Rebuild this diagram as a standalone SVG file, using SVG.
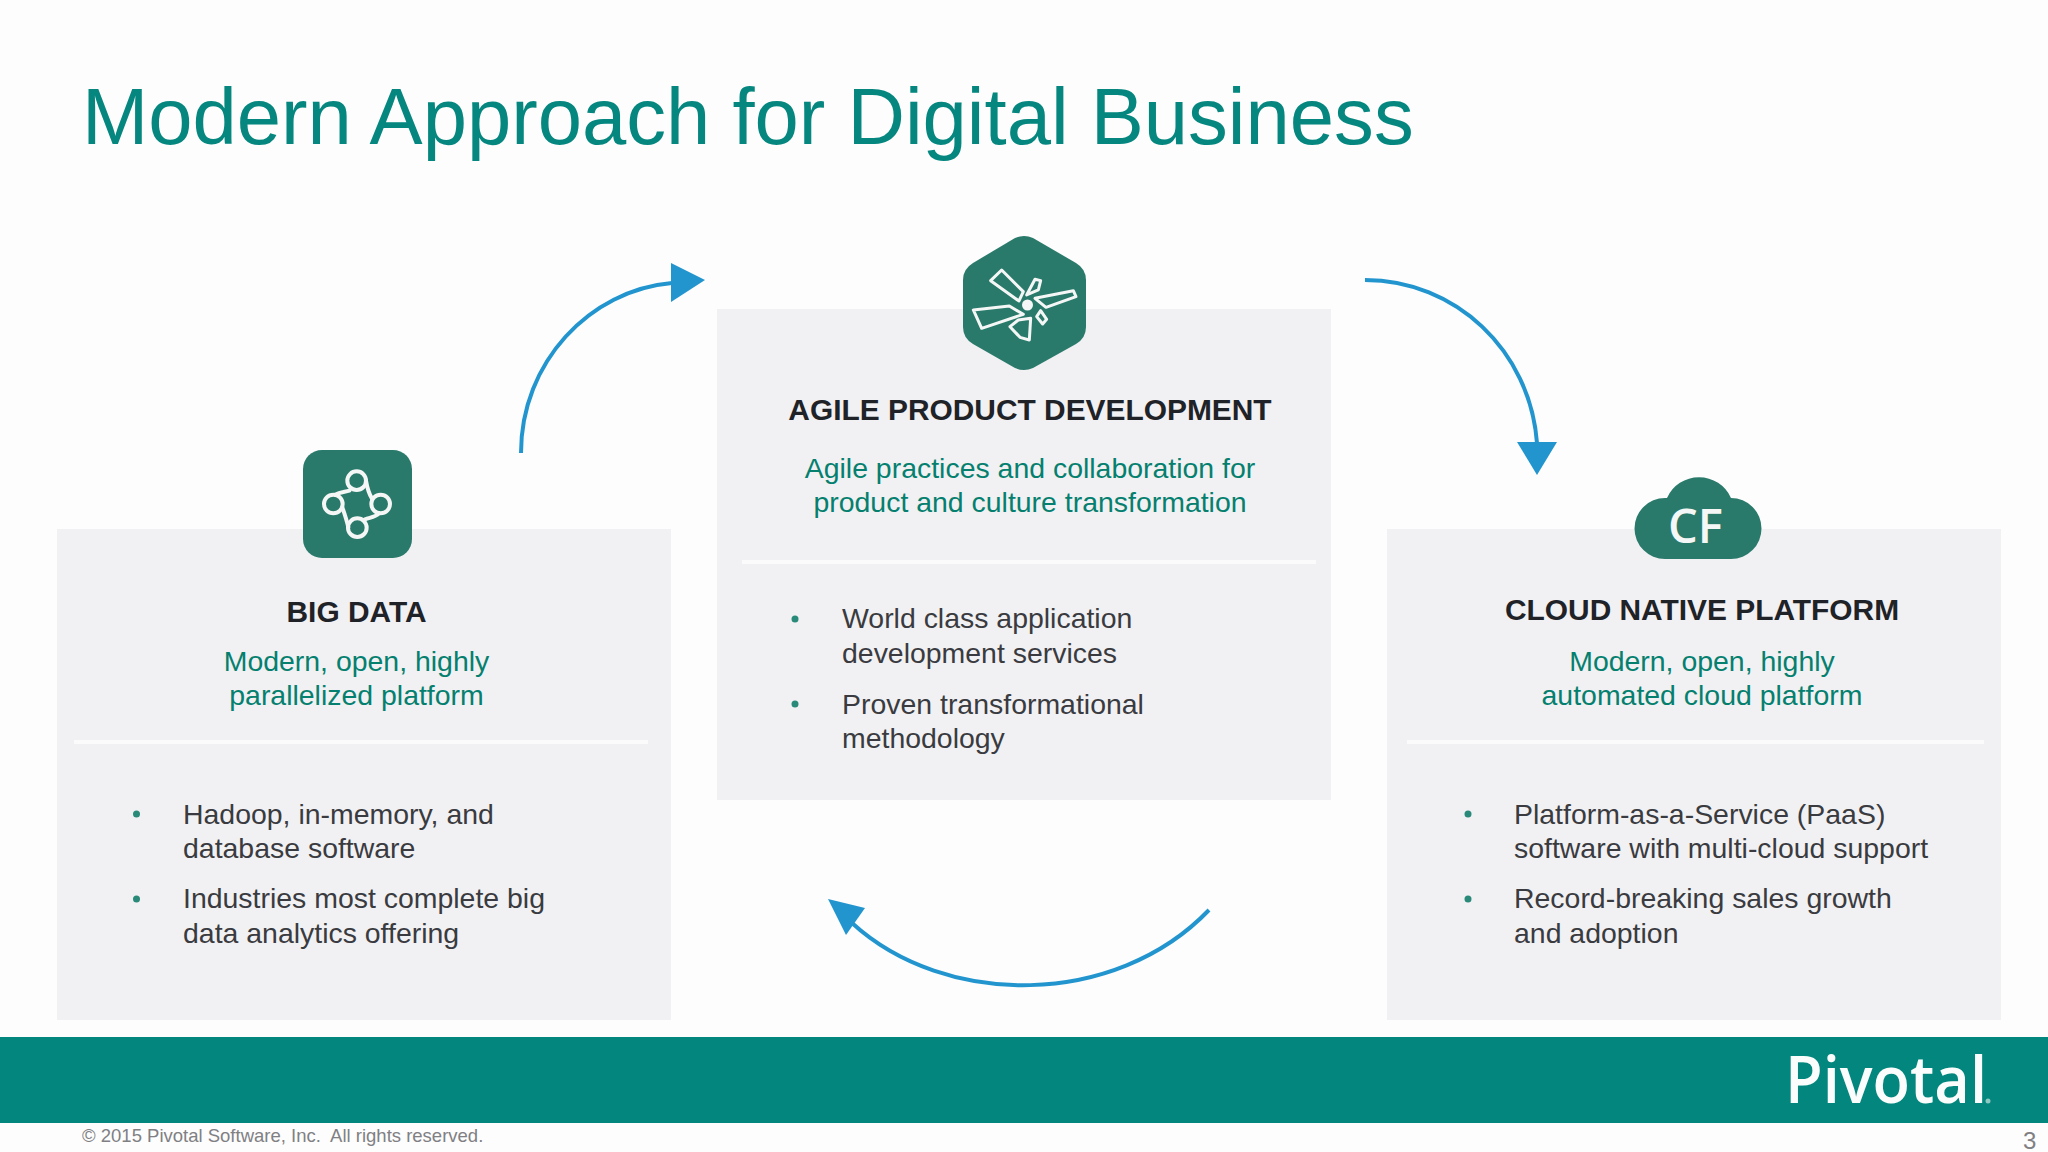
<svg xmlns="http://www.w3.org/2000/svg" width="2048" height="1152" viewBox="0 0 2048 1152">
<defs>
<marker id="ah-right" markerUnits="userSpaceOnUse" markerWidth="40" markerHeight="44" refX="1" refY="22" orient="0"><path d="M0,2 L34,19 L0,41 Z" fill="#2295cf"/></marker>
<marker id="ah-down" markerUnits="userSpaceOnUse" markerWidth="44" markerHeight="40" refX="22" refY="1" orient="0"><path d="M2,0 L42,0 L22,33 Z" fill="#2295cf"/></marker>
<marker id="ah-back" markerUnits="userSpaceOnUse" markerWidth="44" markerHeight="44" refX="26" refY="24" orient="0"><path d="M2,0 L39,9 L20,36 Z" fill="#2295cf"/></marker>
</defs>
<style>
text{font-family:"Liberation Sans",Arial,sans-serif}
.panel{fill:#f1f1f3}
.div{stroke:#fbfbfb;stroke-width:4}
.h{font-size:29.900px;font-weight:700;fill:#1f2328;text-anchor:middle}
.s{font-size:28.450px;fill:#05806f;text-anchor:middle}
.b{font-size:28.450px;fill:#3a3b40}
.dot{fill:#2a8a79}
.ico{fill:#2a7a6b}
.conn{fill:none;stroke:#2295cf;stroke-width:4}
.ln{fill:none;stroke:#f4f7f6;stroke-linejoin:round;stroke-linecap:round}
</style>
<rect width="2048" height="1152" fill="#fdfdfd"/>
<text x="82" y="144" font-size="79.600" fill="#05877f">Modern Approach for Digital Business</text>

<g id="node-big-data">
<rect class="panel" x="57" y="529" width="614" height="491"/>
<rect class="ico" x="303" y="450" width="109" height="108" rx="19"/>
<g class="ln" stroke-width="12" transform="translate(280 430) scale(.3333)">
<circle cx="230" cy="152" r="28"/><circle cx="160" cy="222" r="28"/><circle cx="302" cy="222" r="28"/><circle cx="232" cy="293" r="28"/>
<path d="M165,194 C180,186 195,186 208,182 M258,152 C262,175 266,190 276,206 M297,250 C285,262 270,262 255,268 M205,292 C200,270 195,255 187,232"/>
</g>
<line class="div" x1="74" y1="742" x2="648" y2="742"/>
<text class="h" x="356.500" y="622">BIG DATA</text>
<text class="s" x="356.500" y="671">Modern, open, highly</text>
<text class="s" x="356.500" y="705">parallelized platform</text>
<circle class="dot" cx="136.500" cy="814" r="3.500"/><circle class="dot" cx="136.500" cy="899" r="3.500"/>
<text class="b" x="183" y="824">Hadoop, in-memory, and</text>
<text class="b" x="183" y="858">database software</text>
<text class="b" x="183" y="908">Industries most complete big</text>
<text class="b" x="183" y="943">data analytics offering</text>
</g>

<g id="node-agile">
<rect class="panel" x="717" y="309" width="614" height="491"/>
<path class="ico" d="M1015,238 Q1024,234 1033,238 L1076,263 Q1086,269 1086,280 L1086,327 Q1086,338 1076,344 L1033,368 Q1024,372 1015,368 L973,344 Q963,338 963,327 L963,280 Q963,269 973,263 Z"/>
<g class="ln" stroke-width="9" transform="translate(920 220) scale(.3333)">
<path d="M212,182 L245,150 L310,215 L297,243 Z"/>
<path d="M320,225 L345,178 L362,182 L355,210 Z"/>
<path d="M345,235 L460,212 L468,230 L378,262 Z"/>
<path d="M160,270 L268,258 L310,283 L185,325 Z"/>
<path d="M270,320 L295,300 L332,295 L328,360 L300,352 Z"/>
<path d="M350,290 L362,272 L380,298 L368,312 Z"/>
</g>
<circle cx="1027.500" cy="305" r="5.500" fill="#f4f7f6"/>
<line class="div" x1="742" y1="562" x2="1316" y2="562"/>
<text class="h" x="1030" y="420">AGILE PRODUCT DEVELOPMENT</text>
<text class="s" x="1030" y="478">Agile practices and collaboration for</text>
<text class="s" x="1030" y="512">product and culture transformation</text>
<circle class="dot" cx="795" cy="619" r="3.500"/><circle class="dot" cx="795" cy="704" r="3.500"/>
<text class="b" x="842" y="628">World class application</text>
<text class="b" x="842" y="663">development services</text>
<text class="b" x="842" y="714">Proven transformational</text>
<text class="b" x="842" y="748">methodology</text>
</g>

<g id="node-cloud">
<rect class="panel" x="1387" y="529" width="614" height="491"/>
<path class="ico" d="M1665,559 A30,30 0 0 1 1665,498 L1667,498 A35,35 0 0 1 1731,498 A30,30 0 0 1 1731,559 Z"/>
<text x="1668" y="543" font-size="47" font-weight="600" fill="#f4f7f6" style="font-family:'Open Sans',sans-serif">CF</text>
<line class="div" x1="1407" y1="742" x2="1984" y2="742"/>
<text class="h" x="1702" y="620">CLOUD NATIVE PLATFORM</text>
<text class="s" x="1702" y="671">Modern, open, highly</text>
<text class="s" x="1702" y="705">automated cloud platform</text>
<circle class="dot" cx="1468" cy="814" r="3.500"/><circle class="dot" cx="1468" cy="899" r="3.500"/>
<text class="b" x="1514" y="824">Platform-as-a-Service (PaaS)</text>
<text class="b" x="1514" y="858">software with multi-cloud support</text>
<text class="b" x="1514" y="908">Record-breaking sales growth</text>
<text class="b" x="1514" y="943">and adoption</text>
</g>

<g id="connectors">
<path class="conn" marker-end="url(#ah-right)" d="M521,453 C521,362 590,290 672,283"/>
<path class="conn" marker-end="url(#ah-down)" d="M1365,280 C1455,280 1530,350 1537,443"/>
<path class="conn" marker-end="url(#ah-back)" d="M1209,910 C1115,1008 945,1008 852,923"/>
</g>

<g id="footer">
<rect x="0" y="1037" width="2048" height="86" fill="#02867d"/>
<text x="1785" y="1103" font-size="66" font-weight="600" fill="#fbfdfc" textLength="202" lengthAdjust="spacingAndGlyphs" style="font-family:'Open Sans',sans-serif">Pivotal</text>
<circle cx="1988" cy="1101" r="2.500" fill="#8fc7c1"/>
<text x="82" y="1142" font-size="18.500" fill="#808084" xml:space="preserve">© 2015 Pivotal Software, Inc.  All rights reserved.</text>
<text x="2023" y="1149" font-size="24" fill="#808084">3</text>
</g>
</svg>
